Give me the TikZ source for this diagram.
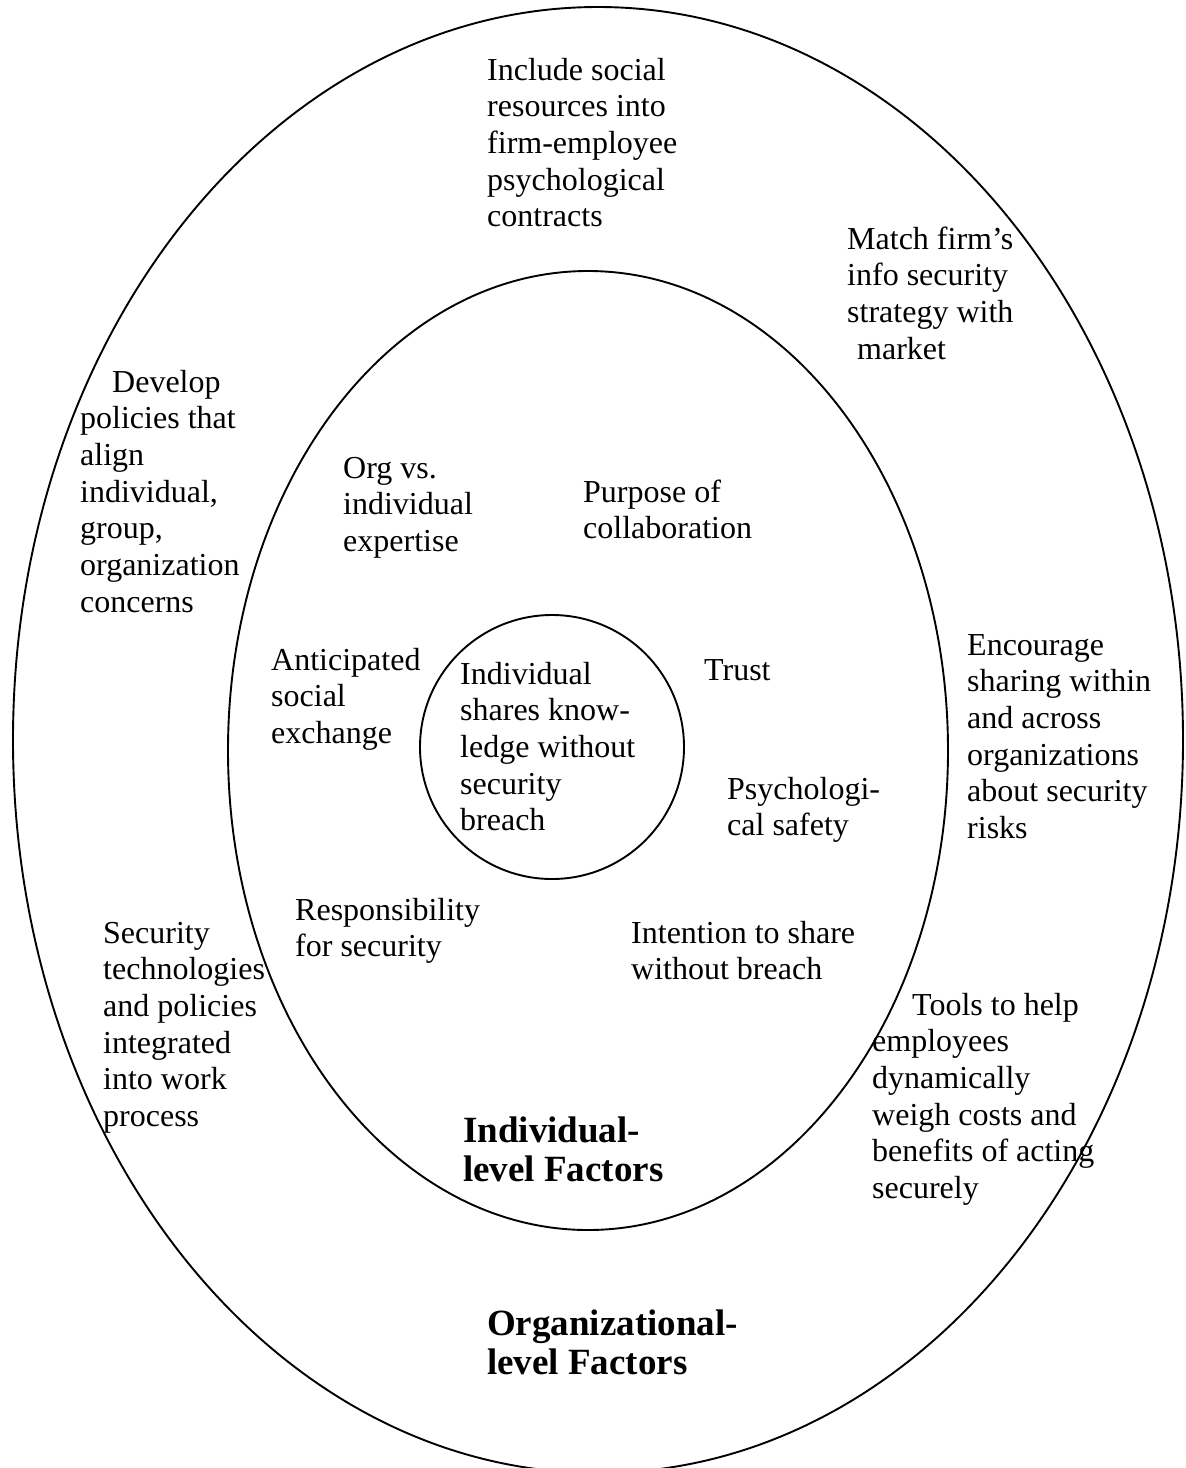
\documentclass[tikz,border=0pt]{standalone}
\usepackage{fontspec}
\setmainfont{Liberation Serif}
\begin{document}
\begin{tikzpicture}[x=1pt,y=-1pt,
  txt/.style={anchor=base west, align=left, inner sep=0pt, font=\fontsize{32}{36.7}\selectfont},
  bigtxt/.style={anchor=base west, align=left, inner sep=0pt, font=\fontsize{37}{39.5}\selectfont\bfseries},
  ring/.style={draw, line width=1.9pt}]
\useasboundingbox (0,0) rectangle (1186,1468);
% rings
\draw[ring] (598,740) ellipse [x radius=585pt, y radius=733pt];
\draw[ring] (588,750.5) ellipse [x radius=360pt, y radius=479.5pt];
\draw[ring] (552,747) circle [radius=132pt];
% organizational-level texts (positions = baseline of last line)
\node[txt] (inc) at (487,226.8) {Include social\\resources into\\firm-employee\\psychological\\contracts};
\node[txt] (match) at (847,359.1) {Match firm’s\\info security\\strategy with\\\hspace*{10pt}market};
\node[txt] (develop) at (80,612.2) {\hspace*{32pt}Develop\\policies that\\align\\individual,\\group,\\organization\\concerns};
\node[txt] (encourage) at (967,838.5) {Encourage\\sharing within\\and across\\organizations\\about security\\risks};
\node[txt] (security) at (103,1126.5) {Security\\technologies\\and policies\\integrated\\into work\\process};
\node[txt] (tools) at (872,1198.5) {\hspace*{40pt}Tools to help\\employees\\dynamically\\weigh costs and\\benefits of acting\\securely};
% individual-level texts
\node[txt] (org) at (343,551.4) {Org vs.\\individual\\expertise};
\node[txt] (purpose) at (583,538.7) {Purpose of\\collaboration};
\node[txt] (anticipated) at (271,743.4) {Anticipated\\social\\exchange};
\node[txt] (trust) at (704,680) {Trust};
\node[txt] (psych) at (727,835.7) {Psychologi-\\cal safety};
\node[txt] (resp) at (295,956.7) {Responsibility\\for security};
\node[txt] (intention) at (631,979.7) {Intention to share\\without breach};
% core
\node[txt] (core) at (460,830.8) {Individual\\shares know-\\ledge without\\security\\breach};
% level labels
\node[bigtxt] (indlevel) at (463,1181.5) {Individual-\\level Factors};
\node[bigtxt] (orglevel) at (487,1374.5) {Organizational-\\level Factors};
\end{tikzpicture}
\end{document}
